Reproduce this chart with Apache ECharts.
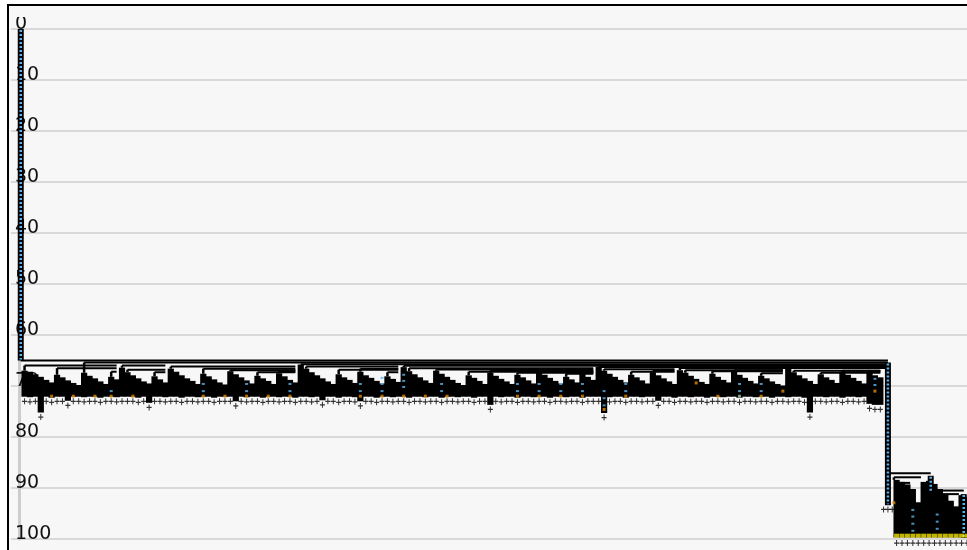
<!DOCTYPE html>
<html>
<head>
<meta charset="utf-8">
<script src="https://cdn.jsdelivr.net/npm/echarts@6/dist/echarts.min.js"></script>
<style>
html,body{margin:0;padding:0;background:#fff;}
#chart{width:967px;height:550px;}
</style>
</head>
<body>
<div id="chart"></div>
<script>
// Depth scale (0 at the top, 100 at the bottom)
const yTickValues = [0, 10, 20, 30, 40, 50, 60, 70, 80, 90, 100];
const yTickLabels = ['0', '10', '20', '30', '40', '50', '60', '70', '80', '90', '100'];

// Main cluster: leaves 1..159, join level (top) and leaf depth (end)
const mainTop = [
  67.0, 67.2, 67.7, 68.2, 68.8, 69.3, 67.8, 68.3, 68.9, 69.4, 69.8, 67.4, 68.0, 68.5, 69.1, 69.6, 68.2, 68.7,
  66.4, 67.3, 67.9, 68.5, 69.1, 69.5, 68.1, 68.7, 69.3,
  66.6, 67.2, 67.9, 68.5, 69.0, 69.6, 67.6, 68.1, 68.7, 69.3, 69.7, 67.1, 67.7, 68.3, 68.9, 69.5, 68.0, 68.5, 69.0, 69.6, 67.5, 68.1, 68.8, 69.3,
  65.8, 66.6, 67.3, 67.9, 68.5, 69.1, 69.6, 67.7, 68.3, 68.8, 69.4, 67.2, 67.9, 68.4, 69.0, 69.5, 68.1, 68.6, 69.2,
  66.3, 67.1, 67.7, 68.3, 68.9, 69.4, 67.0, 67.6, 68.2, 68.8, 69.4, 69.8, 67.9, 68.4, 69.0, 69.6, 67.4, 68.0, 68.6, 69.1, 69.6,
  67.8, 68.3, 68.9, 69.5, 67.2, 67.8, 68.4, 69.0, 69.5, 68.2, 68.7, 69.3, 67.6, 68.2, 68.8,
  66.2, 67.0, 67.6, 68.2, 68.8, 69.3, 67.8, 68.3, 68.9, 69.5, 67.3, 67.9, 68.5, 69.1, 69.6,
  66.9, 67.4, 68.0, 68.6, 69.2, 69.6, 67.6, 68.2, 68.8, 69.3, 67.2, 67.8, 68.4, 69.0, 69.5, 68.0, 68.5, 69.1, 69.6, 69.9,
  66.6, 67.3, 67.9, 68.5, 69.0, 69.6, 67.7, 68.3, 68.8, 69.4, 67.2, 67.8, 68.4, 69.0, 69.5, 67.4, 67.9, 68.3
];
const mainEnd = [
  72.1, 72.2, 72.1, 75.2, 72.1, 72.3, 72.1, 72.1, 72.9, 72.1,
  72.1, 72.2, 72.1, 72.1, 72.3, 72.1, 72.1, 72.2, 72.1, 72.1,
  72.1, 72.3, 72.1, 73.3, 72.1, 72.1, 72.2, 72.1, 72.1, 72.3,
  72.1, 72.1, 72.2, 72.1, 72.1, 72.3, 72.1, 72.1, 72.1, 73.0,
  72.1, 72.2, 72.1, 72.1, 72.3, 72.1, 72.1, 72.2, 72.1, 72.1,
  72.3, 72.1, 72.1, 72.2, 72.1, 72.8, 72.1, 72.1, 72.3, 72.1,
  72.1, 72.2, 73.0, 72.1, 72.1, 72.3, 72.1, 72.1, 72.2, 72.1,
  72.1, 72.3, 72.1, 72.1, 72.2, 72.1, 72.1, 72.3, 72.1, 72.1,
  72.2, 72.1, 72.1, 72.3, 72.1, 72.1, 73.7, 72.1, 72.2, 72.1,
  72.1, 72.3, 72.1, 72.1, 72.2, 72.1, 72.1, 72.3, 72.1, 72.1,
  72.2, 72.1, 72.1, 72.3, 72.1, 72.1, 72.1, 75.3, 72.2, 72.1,
  72.1, 72.3, 72.1, 72.1, 72.2, 72.1, 72.1, 72.9, 72.1, 72.1,
  72.3, 72.1, 72.1, 72.2, 72.1, 72.1, 72.3, 72.1, 72.1, 72.2,
  72.1, 72.1, 72.3, 72.1, 72.1, 72.2, 72.1, 72.1, 72.3, 72.1,
  72.1, 72.2, 72.1, 72.1, 72.3, 75.2, 72.1, 72.1, 72.2, 72.1,
  72.1, 72.3, 72.1, 72.1, 72.2, 72.1, 73.5, 73.7, 73.7
];

// Second cluster: leaves 162..175
const rightTop = [88.4, 88.8, 89.3, 90.2, 92.8, 88.8, 88.6, 89.2, 90.2, 91.2, 92.5, 93.6, 91.4, 91.8];
const rightEnd = [99.7, 99.7, 99.7, 99.7, 99.7, 99.7, 99.7, 99.7, 99.7, 99.7, 99.7, 99.7, 99.7, 99.7];

// Branch lines: [from leaf, level, to leaf, drop level at the left end]
const branchLines = [
  [0.3, 65.0, 160.4, 65.0],
  [12, 65.4, 160.4, 67.4],
  [52, 65.75, 160.4, 65.8],
  [71, 66.05, 160.4, 66.3],
  [107, 66.25, 160.4, 66.25],
  [122, 66.45, 160.4, 66.9],
  [142, 66.3, 160.4, 66.6],
  [1, 66.0, 18, 67.0], [7, 66.5, 18, 67.8], [17, 67.2, 18, 68.2],
  [19, 66.0, 27, 66.4], [20, 66.8, 27, 67.3], [25, 67.3, 27, 68.1],
  [28, 66.2, 51, 66.6], [34, 66.6, 51, 67.6], [39, 66.9, 51, 67.1], [44, 67.3, 51, 68.0], [48, 67.1, 51, 67.5],
  [53, 66.2, 70, 66.6], [59, 66.8, 70, 67.7], [63, 66.6, 70, 67.2], [68, 67.3, 70, 68.1],
  [72, 66.5, 106, 67.1], [77, 66.75, 106, 67.0], [83, 67.2, 106, 67.9], [87, 67.0, 106, 67.4],
  [92, 67.4, 106, 67.8], [96, 67.0, 106, 67.2], [101, 67.6, 106, 68.2], [104, 67.4, 106, 67.6],
  [108, 66.7, 121, 67.0], [113, 67.2, 121, 67.8], [117, 67.0, 121, 67.3],
  [123, 66.9, 141, 67.4], [128, 67.1, 141, 67.6], [132, 66.9, 141, 67.2], [137, 67.5, 141, 68.0],
  [143, 67.0, 159, 67.3], [148, 67.4, 159, 67.7], [152, 67.0, 159, 67.2], [157, 67.2, 159, 67.4],
  [160.4, 87.1, 168.3, 87.6], [161.5, 87.9, 166.5, 88.4], [161.8, 89.0, 164.5, 89.2],
  [168.6, 90.5, 174.4, 91.4], [169.5, 91.2, 173.5, 91.6]
];

// Thick stems carrying the blue marker chains: [leaf, from, to]
const stems = [
  [0.3, 0, 65.0],
  [160.4, 65.4, 93.4],
  [168.3, 87.6, 91.0],
  [174.4, 91.2, 99.8]
];

// Marker dots: [leaf, depth]
const orangeDots = [
  [6, 72.0], [10, 72.0], [14, 72.0], [17, 72.0], [21, 72.0], [34, 72.0], [38, 72.0], [42, 72.0],
  [46, 72.0], [50, 72.0], [63, 72.0], [67, 72.0], [71, 72.0], [75, 72.0], [79, 72.0], [92, 72.0],
  [96, 72.0], [100, 72.0], [104, 72.0], [108, 74.6], [112, 72.0], [125, 69.4], [129, 72.0],
  [133, 72.0], [137, 72.0], [141, 71.0], [158, 71.0], [161.5, 92.9]
];
const blueDots = [
  [17, 71.0], [34, 69.6], [34, 71.0], [42, 69.6], [42, 71.0], [50, 69.6], [50, 71.0],
  [63, 69.6], [63, 71.0], [67, 68.4], [67, 69.6], [67, 71.0], [71, 67.8], [71, 69.0], [71, 70.2],
  [78, 69.6], [78, 71.0], [92, 69.6], [92, 71.0], [96, 69.6], [96, 71.0], [100, 69.6], [100, 71.0],
  [104, 69.6], [104, 71.0], [108, 71.0], [108, 72.4], [108, 73.8], [112, 69.6], [112, 71.0],
  [133, 69.6], [133, 71.0], [133, 72.0], [137, 69.6], [137, 71.0], [158, 68.6], [158, 69.8],
  [165, 94.3], [165, 95.6], [165, 97.0], [165, 98.4], [169.5, 95.2], [169.5, 96.6], [169.5, 98.0]
];
const extraPlus = [[159.6, 94.2], [160.4, 94.2], [161.2, 94.2]];

const leaves = mainTop.map((t, i) => [i + 1, t, mainEnd[i]])
  .concat(rightTop.map((t, i) => [162 + i, t, rightEnd[i]]));
const plusData = leaves.map(l => [l[0], l[2] + (l[0] >= 162 ? 1.1 : 0.9)]).concat(extraPlus);
const yellowData = rightTop.map((t, i) => [162 + i, 99.35]);

// Each leaf is a solid block; blocks overlap by a fraction of a pixel so no seams show
function renderLeaf(params, api) {
  const x = api.value(0);
  const p1 = api.coord([x - 0.5, api.value(1)]);
  const p2 = api.coord([x + 0.5, api.value(2)]);
  return {
    type: 'rect',
    shape: { x: p1[0] - 0.4, y: p1[1], width: p2[0] - p1[0] + 0.8, height: p2[1] - p1[1] },
    style: { fill: '#000' }
  };
}

function renderBranch(params, api) {
  const a = api.coord([api.value(0), api.value(1)]);
  const b = api.coord([api.value(2), api.value(1)]);
  const d = api.coord([api.value(0), api.value(3)]);
  return {
    type: 'group',
    children: [
      { type: 'line', shape: { x1: a[0], y1: a[1], x2: b[0], y2: b[1] }, style: { stroke: '#000', lineWidth: 2 } },
      { type: 'line', shape: { x1: a[0], y1: a[1], x2: d[0], y2: d[1] }, style: { stroke: '#000', lineWidth: 2.5 } }
    ]
  };
}

function renderStem(params, api) {
  const x = api.value(0);
  const a = api.coord([x, api.value(1)]);
  const b = api.coord([x, api.value(2)]);
  return {
    type: 'group',
    children: [
      { type: 'rect', shape: { x: a[0] - 3, y: a[1], width: 6, height: b[1] - a[1] }, style: { fill: '#000' } },
      { type: 'line', shape: { x1: a[0], y1: a[1] + 1, x2: b[0], y2: b[1] - 1 },
        style: { stroke: '#5ab4ec', lineWidth: 2.5, lineDash: [2, 2] } }
    ]
  };
}

const chart = echarts.init(document.getElementById('chart'), null, { renderer: 'canvas' });
chart.setOption({
  backgroundColor: '#f7f7f7',
  animation: false,
  grid: { left: 11, right: 0, top: 29, bottom: 11 },
  xAxis: { type: 'value', min: -1.5, max: 175, show: false },
  yAxis: {
    type: 'value', inverse: true, min: 0, max: 100, interval: 10,
    axisLine: { show: true, lineStyle: { color: '#cdcdcd', width: 3 } },
    axisTick: { show: false },
    splitLine: { show: true, lineStyle: { color: '#d9d9d9', width: 2 } },
    axisLabel: {
      inside: true, margin: 4, align: 'left', verticalAlign: 'bottom',
      showMinLabel: true, showMaxLabel: true,
      color: '#111', fontSize: 19, fontFamily: 'DejaVu Sans', lineHeight: 10,
      formatter: v => yTickLabels[yTickValues.indexOf(v)]
    }
  },
  series: [
    { type: 'custom', name: 'branches', renderItem: renderBranch, data: branchLines, encode: { x: 0, y: 1 }, clip: true, z: 3 },
    { type: 'custom', name: 'leaves', renderItem: renderLeaf, data: leaves, encode: { x: 0, y: 1 }, clip: true, z: 4 },
    { type: 'custom', name: 'stems', renderItem: renderStem, data: stems, encode: { x: 0, y: 1 }, clip: true, z: 5 },
    { type: 'scatter', name: 'leaf ends', data: plusData, clip: false, z: 5,
      symbol: 'path://M2,0H3V2H5V3H3V5H2V3H0V2H2Z', symbolSize: [5, 6],
      itemStyle: { color: '#000' } },
    { type: 'scatter', name: 'orange', data: orangeDots, z: 6, symbol: 'rect', symbolSize: [3, 3],
      itemStyle: { color: '#e08a00' } },
    { type: 'scatter', name: 'blue', data: blueDots, z: 6, symbol: 'rect', symbolSize: [3, 2],
      itemStyle: { color: '#5ab4ec' } },
    { type: 'scatter', name: 'yellow', data: yellowData, z: 6, symbol: 'rect', symbolSize: [5, 4],
      itemStyle: { color: '#f2e200' } }
  ],
  graphic: [
    { type: 'rect', z: 100, shape: { x: 9, y: 6, width: 958, height: 11 }, style: { fill: '#f7f7f7' } },
    { type: 'rect', z: 100, shape: { x: 0, y: 0, width: 967, height: 4 }, style: { fill: '#ffffff' } },
    { type: 'rect', z: 100, shape: { x: 0, y: 0, width: 7, height: 550 }, style: { fill: '#ffffff' } },
    { type: 'rect', z: 101, shape: { x: 7, y: 4, width: 960, height: 2 }, style: { fill: '#000' } },
    { type: 'rect', z: 101, shape: { x: 7, y: 4, width: 2, height: 546 }, style: { fill: '#000' } }
  ]
});
</script>
</body>
</html>
